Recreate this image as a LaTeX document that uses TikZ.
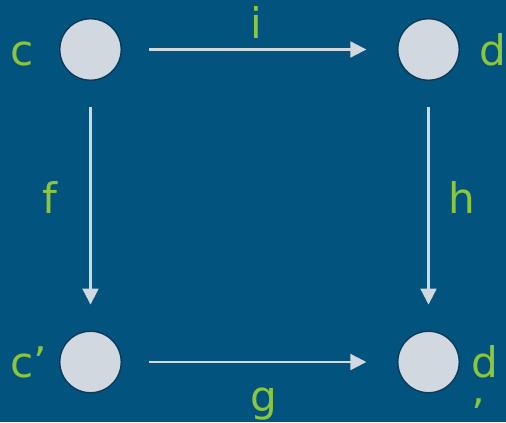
\documentclass[tikz,border=0pt]{standalone}
\usepackage{fontspec}
\setmainfont{DejaVu Sans}
\usetikzlibrary{arrows.meta,positioning}
\definecolor{Backdrop}{HTML}{02547E}
\definecolor{Leaf}{HTML}{8CC63E}
\definecolor{Dot}{HTML}{D1D8DF}
\definecolor{DotRim}{HTML}{0B3A5A}
\tikzset{
  objdot/.style={
    circle, draw=DotRim, line width=0.8pt, fill=Dot, minimum size=35pt, inner sep=0pt
  },
  objlabel/.style={text=Leaf, font=\fontsize{24}{29.6}\selectfont, inner sep=0pt, anchor=base},
  morph/.style={-{Triangle[length=9pt,width=9pt]}, Dot, line width=1.2pt},
  morphh/.style={morph, shorten <=15.5pt, shorten >=17.5pt},
  morphv/.style={morph, shorten <=14.8pt, shorten >=14.8pt},
}
\begin{document}
\begin{tikzpicture}[x=0.02cm, y=-0.02cm]
    \fill[Backdrop] (0,0) rectangle (506,422);
    \useasboundingbox (0,0) rectangle (506,422);
    % objects
    \node[objdot] (c) at (90.5,49.5) {};
    \node[objdot] (d) at (428.5,49.5) {};
    \node[objdot] (cp) at (90.5,362) {};
    \node[objdot] (dp) at (428.5,362) {};
    % object names
    \node[objlabel, anchor=base west] (clab) at (10,66) {c};
    \node[objlabel, anchor=base west] (dlab) at (479,66) {d};
    \node[objlabel, anchor=base west] (cplab) at (10,377) {c’};
    \node[objlabel, anchor=base west, align=left] (dplab) at (471,429) {d\\’};
    % morphisms
    \draw[morphh] (c) -- (d);
    \draw[morphh] (cp) -- (dp);
    \draw[morphv] (c) -- (cp);
    \draw[morphv] (d) -- (dp);
    \node[objlabel] (ilab) at (256.5,39) {i};
    \node[objlabel] (glab) at (264,411) {g};
    \node[objlabel] (flab) at (50,213) {f};
    \node[objlabel] (hlab) at (461.5,213) {h};
  \end{tikzpicture}
\end{document}
